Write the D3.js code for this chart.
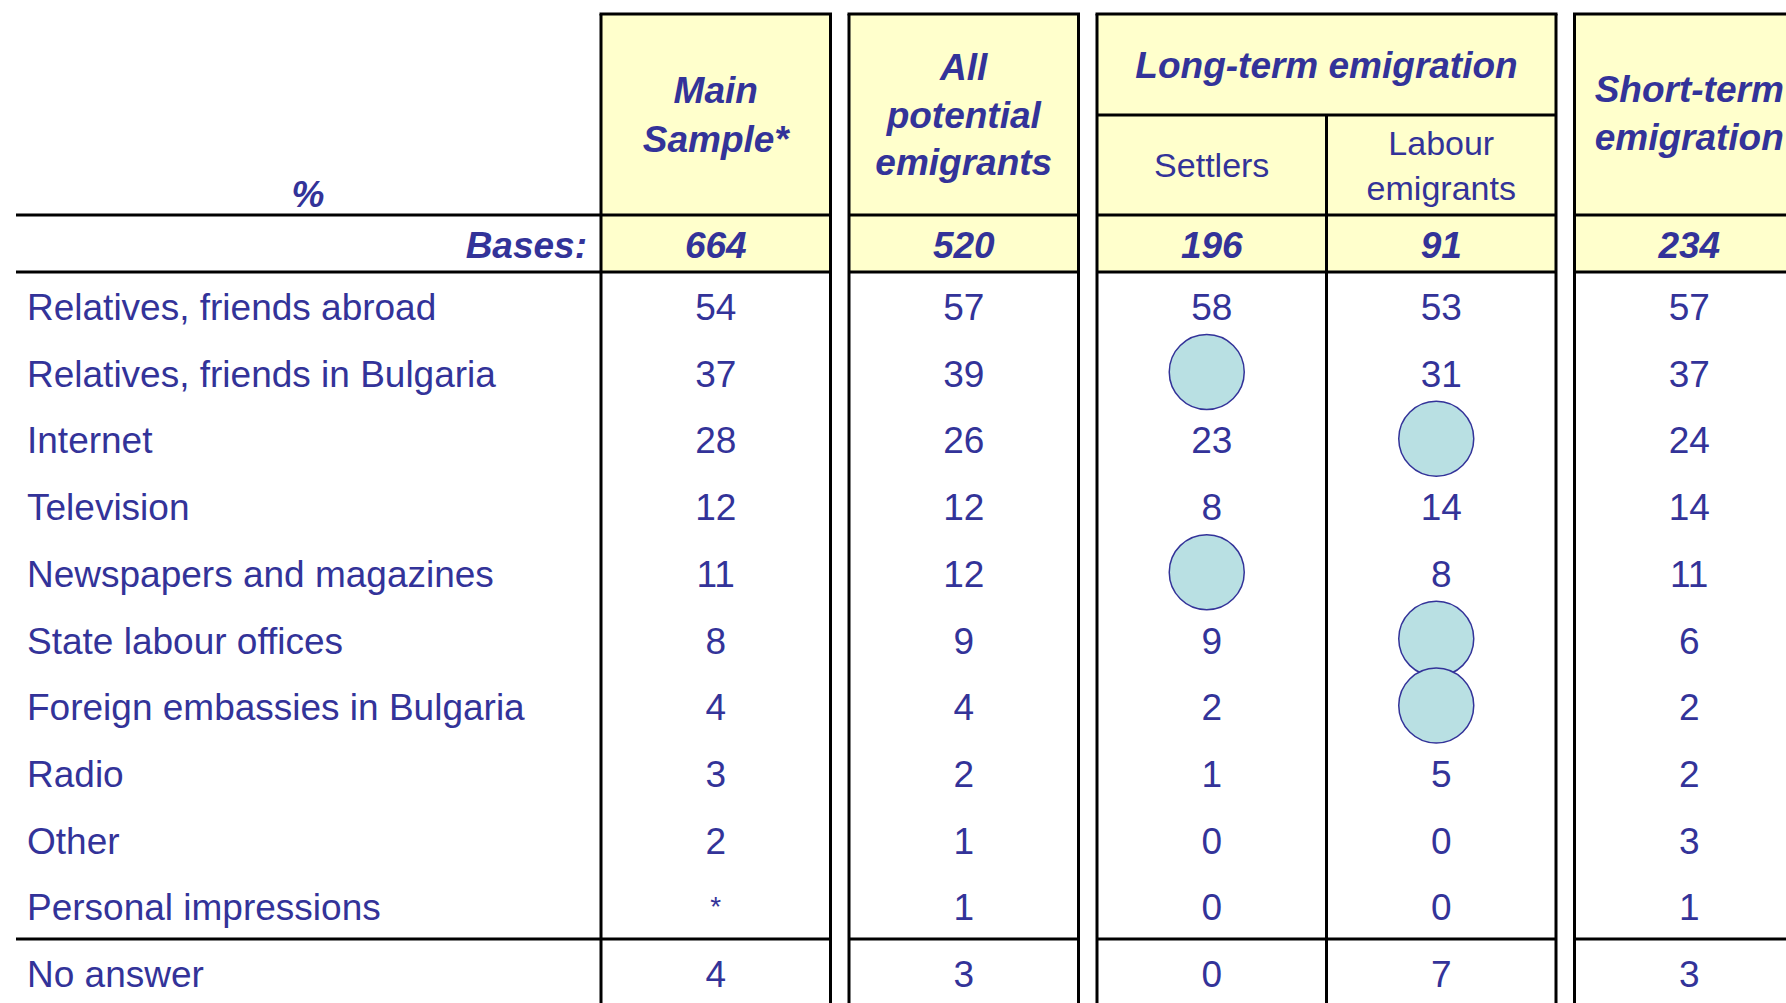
<!DOCTYPE html>
<html>
<head>
<meta charset="utf-8">
<script src="https://cdn.jsdelivr.net/npm/d3@7"></script>
<style>
  body { margin: 0; background: #fff; overflow: hidden; }
  svg { display: block; font-family: "Liberation Sans", Arial, sans-serif; }
</style>
</head>
<body>
<div id="table_div"></div>
<script>
// rows of the table
const categories = [
  "Relatives, friends abroad",
  "Relatives, friends in Bulgaria",
  "Internet",
  "Television",
  "Newspapers and magazines",
  "State labour offices",
  "Foreign embassies in Bulgaria",
  "Radio",
  "Other",
  "Personal impressions",
  "No answer"
];

// column values, null = marked with a circle
const mainSample   = ["54", "37", "28", "12", "11", "8", "4", "3", "2", "*", "4"];
const allPotential = [57, 39, 26, 12, 12, 9, 4, 2, 1, 1, 3];
const settlers     = [58, null, 23, 8, null, 9, 2, 1, 0, 0, 0];
const labour       = [53, 31, null, 14, 8, null, null, 5, 0, 0, 7];
const shortTerm    = [57, 37, 24, 14, 11, 6, 2, 2, 3, 1, 3];

const bases = [664, 520, 196, 91, 234];

const columnKeys = ["main", "all", "settlers", "labour", "short"];
const columnValues = [mainSample, allPotential, settlers, labour, shortTerm];

const width = 1786, height = 1003;
const textColor = "#333399";
const headFill = "#ffffcc";
const circleFill = "#b9e0e3";

const headTop = 14, headBottom = 215, basesBottom = 272, rowH = 66.7;
const stubLeft = 16, firstCol = 601, colW = 229.5, gap = 18.5;

// column groups: each group is a separate box
const groups = [["main"], ["all"], ["settlers", "labour"], ["short"]];
const colX = {};
const groupBoxes = [];
let cursor = firstCol;
groups.forEach(function(g) {
    const start = cursor;
    g.forEach(function(k) { colX[k] = cursor; cursor += colW; });
    groupBoxes.push({start: start, end: cursor, keys: g});
    cursor += gap;
});

const yScale = d3.scaleBand()
    .domain(categories)
    .range([basesBottom, basesBottom + rowH * categories.length])
    .paddingInner(0);

const svg = d3.select("#table_div")
    .append("svg")
    .attr("width", width)
    .attr("height", height);

// header backgrounds
svg.append("g").selectAll("rect")
    .data(groupBoxes)
    .join("rect")
    .attr("x", d => d.start)
    .attr("y", headTop)
    .attr("width", d => d.end - d.start)
    .attr("height", basesBottom - headTop)
    .attr("fill", headFill);

const lines = svg.append("g")
    .attr("stroke", "#000")
    .attr("stroke-width", 3);

const sepY = yScale("No answer");
const hLines = [headBottom, basesBottom, sepY];

// stub horizontal lines
hLines.forEach(function(y) {
    lines.append("line")
        .attr("x1", stubLeft).attr("x2", firstCol)
        .attr("y1", y).attr("y2", y);
});

groupBoxes.forEach(function(b) {
    lines.append("line").attr("x1", b.start - 1.5).attr("x2", b.end + 1.5)
        .attr("y1", headTop).attr("y2", headTop);
    [b.start, b.end].forEach(function(x) {
        lines.append("line").attr("x1", x).attr("x2", x)
            .attr("y1", headTop).attr("y2", height + 10);
    });
    hLines.forEach(function(y) {
        lines.append("line").attr("x1", b.start).attr("x2", b.end)
            .attr("y1", y).attr("y2", y);
    });
    if (b.keys.length > 1) {
        lines.append("line").attr("x1", b.start).attr("x2", b.end)
            .attr("y1", 115).attr("y2", 115);
        lines.append("line").attr("x1", b.start + colW).attr("x2", b.start + colW)
            .attr("y1", 115).attr("y2", height + 10);
    }
});

const text = svg.append("g").attr("fill", textColor);

function headText(lines_, cx, baselines, bold, size) {
    lines_.forEach(function(t, i) {
        text.append("text")
            .attr("x", cx).attr("y", baselines[i])
            .attr("text-anchor", "middle")
            .attr("font-size", size)
            .attr("font-weight", bold ? "bold" : "normal")
            .attr("font-style", bold ? "italic" : "normal")
            .text(t);
    });
}

const cx = k => colX[k] + colW / 2;

headText(["%"], 308, [207], true, 37);
headText(["Main", "Sample*"], cx("main"), [103, 152], true, 37);
headText(["All", "potential", "emigrants"], cx("all"), [80, 128, 175], true, 37);
headText(["Long-term emigration"], colX.settlers + colW, [78], true, 37);
headText(["Settlers"], cx("settlers"), [177], false, 34);
headText(["Labour", "emigrants"], cx("labour"), [155, 200], false, 34);
headText(["Short-term", "emigration"], cx("short"), [102, 150], true, 37);

text.append("text")
    .attr("x", 587).attr("y", 258)
    .attr("text-anchor", "end")
    .attr("font-size", 37)
    .attr("font-weight", "bold")
    .attr("font-style", "italic")
    .text("Bases:");

text.selectAll(".base")
    .data(bases)
    .join("text")
    .attr("class", "base")
    .attr("x", (d, i) => cx(columnKeys[i]))
    .attr("y", 258)
    .attr("text-anchor", "middle")
    .attr("font-size", 37)
    .attr("font-weight", "bold")
    .attr("font-style", "italic")
    .text(d => d);

// row labels
text.selectAll(".label")
    .data(categories)
    .join("text")
    .attr("class", "label")
    .attr("x", 27)
    .attr("y", d => yScale(d) + 48)
    .attr("font-size", 37)
    .text(d => d);

// cells
columnKeys.forEach(function(k, ci) {
    const vals = columnValues[ci];
    const cells = categories.map((c, i) => ({cat: c, v: vals[i]}));

    svg.append("g").selectAll("circle")
        .data(cells.filter(d => d.v === null))
        .join("circle")
        .attr("cx", cx(k) - 5)
        .attr("cy", d => yScale(d.cat) + yScale.bandwidth() / 2)
        .attr("r", 37.5)
        .attr("fill", circleFill)
        .attr("stroke", textColor)
        .attr("stroke-width", 1.5);

    text.append("g").selectAll("text")
        .data(cells.filter(d => d.v !== null))
        .join("text")
        .attr("x", cx(k))
        .attr("y", d => yScale(d.cat) + (d.v === "*" ? 44 : 48))
        .attr("text-anchor", "middle")
        .attr("font-size", d => d.v === "*" ? 28 : 37)
        .text(d => d.v);
});
</script>
</body>
</html>
